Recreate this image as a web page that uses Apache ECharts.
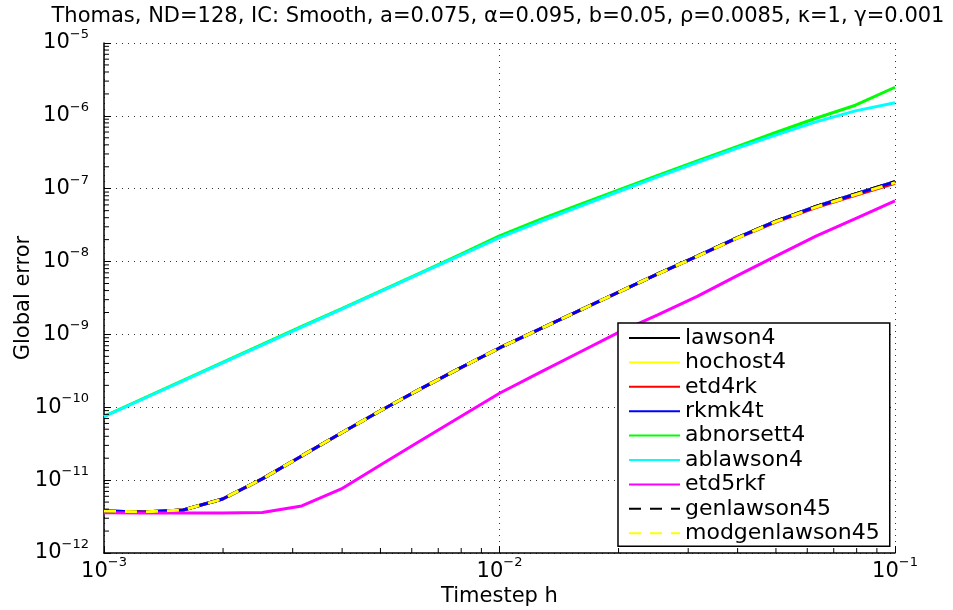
<!DOCTYPE html>
<html>
<head>
<meta charset="utf-8">
<title>Global error vs timestep</title>
<script src="https://cdn.jsdelivr.net/npm/echarts@6/dist/echarts.min.js"></script>
<style>
  html, body { margin: 0; padding: 0; background: #fff; }
  #chart { width: 953px; height: 610px; }
</style>
</head>
<body>
<div id="chart"></div>
<script>
const timesteps = [0.001, 0.001259, 0.001585, 0.001995, 0.002512, 0.003162, 0.003981, 0.005012, 0.00631, 0.007943,
  0.01, 0.01259, 0.01585, 0.01995, 0.02512, 0.03162, 0.03981, 0.05012, 0.0631, 0.07943, 0.1];

const lawson4 = [3.78e-12, 3.66e-12, 3.89e-12, 5.51e-12, 1.04e-11, 2.15e-11, 4.44e-11, 9.03e-11, 1.79e-10, 3.44e-10,
  6.52e-10, 1.17e-9, 2.10e-9, 3.77e-9, 6.76e-9, 1.19e-8, 2.11e-8, 3.61e-8, 5.70e-8, 8.47e-8, 1.25e-7];
const hochost4 = [3.78e-12, 3.66e-12, 3.89e-12, 5.51e-12, 1.04e-11, 2.15e-11, 4.44e-11, 9.03e-11, 1.79e-10, 3.44e-10,
  6.52e-10, 1.17e-9, 2.10e-9, 3.77e-9, 6.76e-9, 1.19e-8, 2.11e-8, 3.61e-8, 5.70e-8, 8.47e-8, 1.25e-7];
const etd4rk = [3.78e-12, 3.66e-12, 3.89e-12, 5.51e-12, 1.04e-11, 2.15e-11, 4.44e-11, 9.03e-11, 1.79e-10, 3.44e-10,
  6.52e-10, 1.17e-9, 2.10e-9, 3.77e-9, 6.74e-9, 1.18e-8, 2.08e-8, 3.52e-8, 5.50e-8, 8.10e-8, 1.19e-7];
const rkmk4t = [3.78e-12, 3.66e-12, 3.89e-12, 5.51e-12, 1.04e-11, 2.15e-11, 4.44e-11, 9.03e-11, 1.79e-10, 3.44e-10,
  6.52e-10, 1.17e-9, 2.10e-9, 3.77e-9, 6.76e-9, 1.19e-8, 2.11e-8, 3.61e-8, 5.70e-8, 8.47e-8, 1.25e-7];
const abnorsett4 = [7.5e-11, 1.33e-10, 2.35e-10, 4.13e-10, 7.3e-10, 1.29e-9, 2.25e-9, 3.97e-9, 7.02e-9, 1.25e-8,
  2.26e-8, 3.72e-8, 6.01e-8, 9.59e-8, 1.52e-7, 2.40e-7, 3.79e-7, 5.95e-7, 9.28e-7, 1.40e-6, 2.47e-6];
const ablawson4 = [7.43e-11, 1.31e-10, 2.31e-10, 4.06e-10, 7.15e-10, 1.26e-9, 2.21e-9, 3.90e-9, 6.87e-9, 1.21e-8,
  2.13e-8, 3.49e-8, 5.64e-8, 9.08e-8, 1.45e-7, 2.29e-7, 3.59e-7, 5.48e-7, 8.26e-7, 1.17e-6, 1.51e-6];
const etd5rkf = [3.57e-12, 3.54e-12, 3.54e-12, 3.54e-12, 3.60e-12, 4.42e-12, 7.56e-12, 1.63e-11, 3.47e-11, 7.36e-11,
  1.56e-10, 2.96e-10, 5.60e-10, 1.06e-9, 1.86e-9, 3.33e-9, 6.36e-9, 1.20e-8, 2.24e-8, 3.88e-8, 6.83e-8];
const genlawson45 = [3.78e-12, 3.66e-12, 3.89e-12, 5.51e-12, 1.04e-11, 2.15e-11, 4.44e-11, 9.03e-11, 1.79e-10, 3.44e-10,
  6.52e-10, 1.17e-9, 2.10e-9, 3.77e-9, 6.76e-9, 1.19e-8, 2.11e-8, 3.61e-8, 5.70e-8, 8.47e-8, 1.25e-7];
const modgenlawson45 = [3.78e-12, 3.66e-12, 3.89e-12, 5.51e-12, 1.04e-11, 2.15e-11, 4.44e-11, 9.03e-11, 1.79e-10, 3.44e-10,
  6.52e-10, 1.17e-9, 2.10e-9, 3.77e-9, 6.74e-9, 1.18e-8, 2.09e-8, 3.56e-8, 5.60e-8, 8.30e-8, 1.21e-7];

const legendNames = ["lawson4", "hochost4", "etd4rk", "rkmk4t", "abnorsett4", "ablawson4", "etd5rkf", "genlawson45", "modgenlawson45"];

const FONT = "'DejaVu Sans', 'Liberation Sans', Arial, sans-serif";

// 10^n labels like matlab
function powLabel(value) {
  const e = Math.round(Math.log10(value));
  return "{b|10}{s|" + (e < 0 ? "\u2212" + (-e) : e) + "}";
}
const powRich = {
  b: { fontSize: 21, lineHeight: 21, fontFamily: FONT, color: "#000" },
  s: { fontSize: 13, lineHeight: 13, fontFamily: FONT, color: "#000", padding: [0, 0, 17, 0] },
};

// minor ticks (2..9 per decade), drawn inward
const xMinor = [];
const yMinor = [];
for (let d = -3; d < -1; d++) for (let k = 2; k <= 9; k++) xMinor.push([k * Math.pow(10, d), 1e-12]);
for (let d = -12; d < -5; d++) for (let k = 2; k <= 9; k++) yMinor.push([1e-3, k * Math.pow(10, d)]);

function tickSeries(data, dx, dy) {
  return {
    type: "custom",
    silent: true,
    clip: false,
    z: 5,
    data: data,
    renderItem: function (params, api) {
      const p = api.coord([api.value(0), api.value(1)]);
      return {
        type: "line",
        shape: { x1: p[0], y1: p[1], x2: p[0] + dx, y2: p[1] + dy },
        style: { stroke: "#000", lineWidth: 1 },
      };
    },
  };
}

function lineSeries(name, values, color, dashed) {
  return {
    name: name,
    type: "line",
    data: timesteps.map((h, i) => [h, values[i]]),
    symbol: "none",
    showSymbol: false,
    lineStyle: { color: color, width: 3, type: dashed ? [12, 9] : "solid" },
    itemStyle: { color: color },
    emphasis: { disabled: true },
    z: 2,
  };
}

const chart = echarts.init(document.getElementById("chart"));
chart.setOption({
  animation: false,
  backgroundColor: "#fff",
  title: {
    text: "Thomas, ND=128, IC: Smooth, a=0.075, \u03b1=0.095, b=0.05, \u03c1=0.0085, \u03ba=1, \u03b3=0.001",
    left: 498,
    top: 6,
    padding: 0,
    textAlign: "center",
    textStyle: { fontSize: 21, fontWeight: "normal", color: "#000", fontFamily: FONT },
  },
  grid: { left: 104, right: 58, top: 43, bottom: 57, containLabel: false, outerBoundsMode: "none" },
  legend: {
    data: legendNames,
    orient: "vertical",
    left: 618,
    top: 323,
    padding: [4, 10, 2, 10],
    itemWidth: 51,
    itemHeight: 3,
    itemGap: 2.4,
    itemStyle: { opacity: 0 },
    borderColor: "#000",
    borderWidth: 1.5,
    backgroundColor: "#fff",
    textStyle: { fontSize: 22, lineHeight: 22, color: "#000", fontFamily: FONT },
    z: 10,
  },
  xAxis: {
    type: "log",
    logBase: 10,
    min: 1e-3,
    max: 1e-1,
    name: "Timestep h",
    nameLocation: "middle",
    nameGap: 33,
    nameMoveOverlap: false,
    nameTextStyle: { fontSize: 21, color: "#000", fontFamily: FONT },
    axisLine: { lineStyle: { color: "#000", width: 1.5 } },
    axisTick: { inside: true, length: 7, lineStyle: { color: "#000" } },
    axisLabel: { margin: 8, formatter: powLabel, rich: powRich },
    splitLine: { show: true, lineStyle: { color: "#333", type: [1, 5], width: 1 } },
  },
  yAxis: {
    type: "log",
    logBase: 10,
    min: 1e-12,
    max: 1e-5,
    name: "Global error",
    nameLocation: "middle",
    nameGap: 70,
    nameMoveOverlap: false,
    nameTextStyle: { fontSize: 21, color: "#000", fontFamily: FONT },
    axisLine: { lineStyle: { color: "#000", width: 1.5 } },
    axisTick: { inside: true, length: 7, lineStyle: { color: "#000" } },
    axisLabel: { margin: 15, formatter: powLabel, rich: powRich },
    splitLine: { show: true, lineStyle: { color: "#333", type: [1, 5], width: 1 } },
  },
  series: [
    lineSeries("lawson4", lawson4, "#000000", false),
    lineSeries("hochost4", hochost4, "#ffff00", false),
    lineSeries("etd4rk", etd4rk, "#ff0000", false),
    lineSeries("rkmk4t", rkmk4t, "#0000ff", false),
    lineSeries("abnorsett4", abnorsett4, "#00ff00", false),
    lineSeries("ablawson4", ablawson4, "#00ffff", false),
    lineSeries("etd5rkf", etd5rkf, "#ff00ff", false),
    lineSeries("genlawson45", genlawson45, "#000000", true),
    lineSeries("modgenlawson45", modgenlawson45, "#ffff00", true),
    tickSeries(xMinor, 0, -5),
    tickSeries(yMinor, 5, 0),
  ],
});
window.addEventListener("resize", () => chart.resize());
</script>
</body>
</html>
